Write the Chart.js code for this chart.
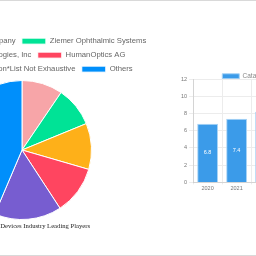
<!DOCTYPE html>
<html>
<head>
<meta charset="utf-8">
<script src="https://cdn.jsdelivr.net/npm/chart.js@4.4.0/dist/chart.umd.min.js"></script>
<style>
  html, body { margin: 0; padding: 0; background: #fff; }
  #page {
    position: relative; width: 256px; height: 256px; overflow: hidden;
    box-sizing: border-box; border-top: 1px solid #d9d9d9; border-bottom: 1px solid #d9d9d9;
  }
  #pieWrap { position: absolute; left: -128px; top: 0; width: 300px; height: 254px; }
  #barWrap { position: absolute; left: 179px; top: 70px; width: 217px; height: 121px; }
</style>
</head>
<body>
<div id="page">
  <div id="pieWrap"><canvas id="playersPie"></canvas></div>
  <div id="barWrap"><canvas id="marketBar"></canvas></div>
</div>
<script>
// leading players share (%)
const playerNames = [
    'STAAR Surgical Company',
    'Ziemer Ophthalmic Systems',
    'Lensar Technologies, Inc',
    'HumanOptics AG',
    'Johnson & Johnson*List Not Exhaustive',
    'Others'
];
const playerShares = [9.5, 9.3, 10.7, 11.3, 15.6, 43.6];
const playerColors = ['#f7a5a8', '#00e396', '#feb019', '#ff4560', '#775dd0', '#008ffb'];

// market size by year (only the visible bars have values)
const years = ['2020', '2021', '2022', '2023', '2024', '2025', '2026'];
const marketSize = [6.8, 7.4, 8.2];
const yTicks = [0, 2, 4, 6, 8, 10, 12];

const sansFont = '"Liberation Sans", Arial, sans-serif';

// 범례 아래 여백 줄이기
function legendShrink(amount) {
    return {
        id: 'legendShrink',
        beforeInit(chart) {
            const origFit = chart.legend.fit;
            chart.legend.fit = function () {
                origFit.call(this);
                this.height -= amount;
            };
        }
    };
}

// 막대 안쪽 값 표시
const barValuePlugin = {
    id: 'barValue',
    afterDatasetsDraw(chart) {
        const ctx = chart.ctx;
        const meta = chart.getDatasetMeta(0);
        ctx.save();
        ctx.fillStyle = '#fff';
        ctx.font = '5.5px ' + sansFont;
        ctx.textAlign = 'center';
        ctx.textBaseline = 'middle';
        meta.data.forEach((bar, i) => {
            const v = chart.data.datasets[0].data[i];
            if (v == null) return;
            ctx.fillText(v.toFixed(1), bar.x, (bar.y + bar.base) / 2);
        });
        ctx.restore();
    }
};

new Chart(document.getElementById('playersPie'), {
    type: 'pie',
    data: {
        labels: playerNames,
        datasets: [{
            data: playerShares,
            backgroundColor: playerColors,
            borderColor: '#fff',
            borderWidth: 1,
            hoverOffset: 0
        }]
    },
    options: {
        responsive: true,
        maintainAspectRatio: false,
        animation: false,
        layout: { padding: { top: 30, bottom: 24.5 } },
        plugins: {
            legend: {
                position: 'top',
                labels: {
                    boxWidth: 24,
                    boxHeight: 6,
                    padding: 6.3,
                    color: '#666',
                    font: { family: sansFont, size: 7.7 }
                }
            },
            title: {
                display: true,
                position: 'bottom',
                text: 'Cataract Surgery Devices Industry Leading Players',
                color: '#222',
                font: { family: '"Liberation Serif", "Times New Roman", serif', size: 6.65, weight: 'normal' },
                padding: { top: 2.5, bottom: 0 }
            },
            tooltip: { enabled: false }
        }
    },
    plugins: [legendShrink(3)]
});

new Chart(document.getElementById('marketBar'), {
    type: 'bar',
    data: {
        labels: years,
        datasets: [{
            label: 'Cataract Surgery Devices Market Size',
            data: marketSize,
            backgroundColor: '#3b9be9',
            borderColor: '#a9d3f5',
            borderWidth: 1
        }]
    },
    options: {
        responsive: true,
        maintainAspectRatio: false,
        animation: false,
        plugins: {
            legend: {
                labels: {
                    boxWidth: 17,
                    boxHeight: 5,
                    padding: 2,
                    color: '#888',
                    font: { family: sansFont, size: 6.5 }
                }
            },
            tooltip: { enabled: false }
        },
        scales: {
            x: {
                grid: { color: '#ececec', tickLength: 2 },
                ticks: { color: '#777', font: { family: sansFont, size: 5.5 }, padding: 0.5 }
            },
            y: {
                min: yTicks[0],
                max: yTicks[yTicks.length - 1],
                grid: { color: '#ececec', tickLength: 4 },
                ticks: { stepSize: 2, color: '#777', font: { family: sansFont, size: 5.5 }, padding: 2 }
            }
        }
    },
    plugins: [barValuePlugin, legendShrink(10.5)]
});
</script>
</body>
</html>
